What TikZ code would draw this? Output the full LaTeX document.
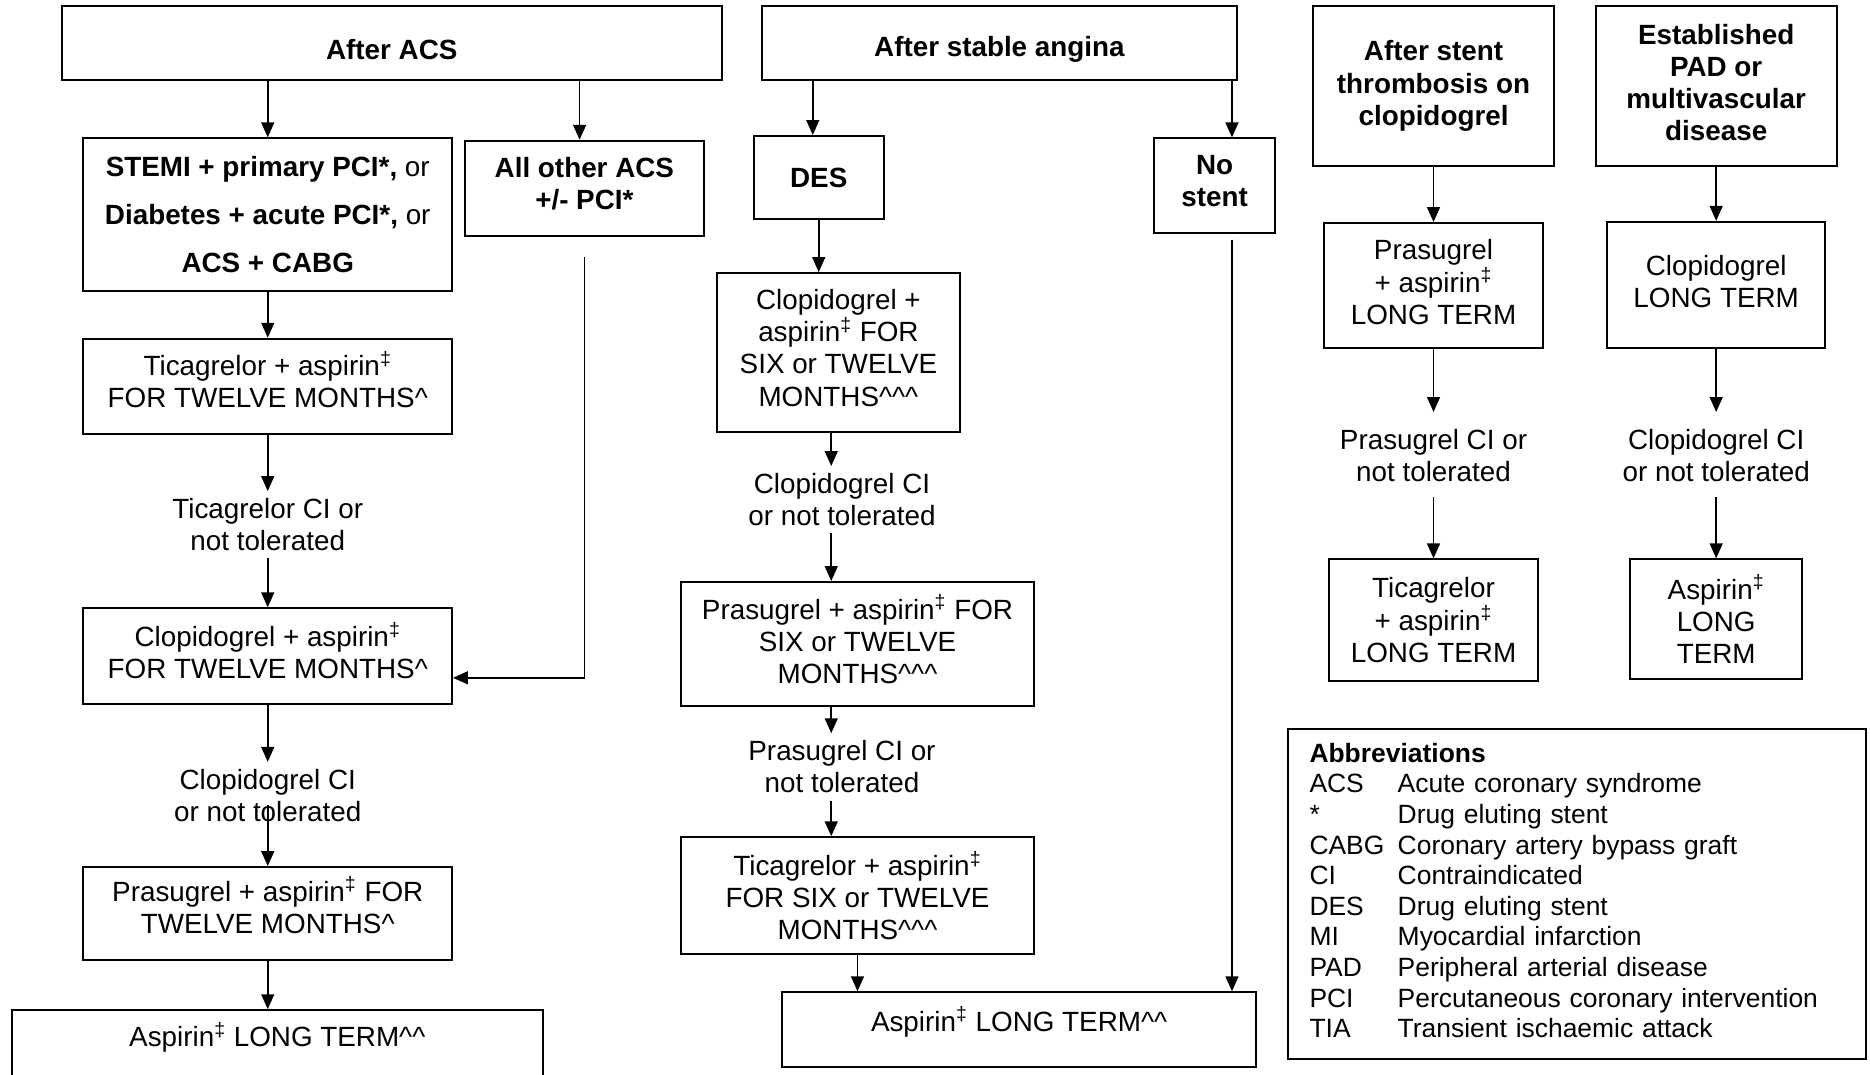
\documentclass[tikz,border=0pt]{standalone}
\usepackage{fontspec}
\setmainfont{Liberation Sans}
\usepackage{tikz}
\usetikzlibrary{arrows.meta}

\newcommand{\basefont}{\fontsize{14}{16.2}\selectfont}
\newcommand{\dg}{\textsuperscript{‡}}
\newcommand{\asp}{aspirin\dg}
\newcommand{\crt}{\textasciicircum}

\begin{document}
\begin{tikzpicture}[
	x=0.6pt, y=-0.6pt,
	font=\basefont,
	box/.style={rectangle, draw, line width=1pt, align=center, inner sep=2pt, font=\basefont},
	headbox/.style={box, font=\basefont\bfseries},
	dims/.style 2 args={minimum width=#1*0.6pt, minimum height=#2*0.6pt},
	cond/.style={align=center, inner sep=3.5pt, font=\basefont},
	arrow/.style={-{Triangle[length=7.5pt,width=6.5pt]}, line width=0.8pt}
	]
	\useasboundingbox (0,0) rectangle (1568,901);

	% After ACS
	\node (acs) [headbox, dims={553}{62}, text height=17pt] at (328.5,36) {After ACS};
	\node (stemi) [box, dims={309}{128}, font=\fontsize{14}{24}\selectfont] at (224.5,180)
		{\textbf{STEMI + primary PCI*,} or\\\textbf{Diabetes + acute PCI*,} or\\\textbf{ACS + CABG}};
	\node (other) [headbox, dims={200}{80}, text depth=4.8pt] at (490,158) {All other ACS\\+/- PCI*};
	\node (ticl) [box, dims={309}{80}, text depth=7.2pt] at (224.5,324) {Ticagrelor + \asp\\FOR TWELVE MONTHS\crt};
	\node (citl) [cond] at (224.5,440) {Ticagrelor CI or\\not tolerated};
	\node (clol) [box, dims={309}{80}, text depth=5.4pt] at (224.5,550) {Clopidogrel + \asp\\FOR TWELVE MONTHS\crt};
	\node (cicl) [cond] at (224.5,667) {Clopidogrel CI\\or not tolerated};
	\node (pral) [box, dims={309}{78}, text depth=8.4pt] at (224.5,766) {Prasugrel + \asp{} FOR\\TWELVE MONTHS\crt};
	\node (aspl) [box, dims={445}{64}, text depth=13.8pt] at (232.5,879) {Aspirin\dg{} LONG TERM\crt\crt};

	% After stable angina
	\node (angina) [headbox, dims={398}{62}, text height=17pt] at (838,36) {After stable angina};
	\node (des) [headbox, dims={109}{70}] at (686.5,149) {DES};
	\node (nostent) [headbox, dims={101}{79}, text depth=4.8pt] at (1018.5,155.5) {No\\stent};
	\node (clom) [box, dims={204}{133}, text depth=4.8pt] at (703,295.5) {Clopidogrel +\\\asp{} FOR\\SIX or TWELVE\\MONTHS\crt\crt\crt};
	\node (cicm) [cond] at (706,419) {Clopidogrel CI\\or not tolerated};
	\node (pram) [box, dims={296}{104}, text depth=4.8pt] at (719,540) {Prasugrel + \asp{} FOR\\SIX or TWELVE\\MONTHS\crt\crt\crt};
	\node (cipm) [cond] at (706,643) {Prasugrel CI or\\not tolerated};
	\node (ticm) [box, dims={296}{98}] at (719,751) {Ticagrelor + \asp\\FOR SIX or TWELVE\\MONTHS\crt\crt\crt};
	\node (aspm) [box, dims={397}{63}, text depth=10.8pt] at (854.5,863.5) {Aspirin\dg{} LONG TERM\crt\crt};
	\coordinate (midcol) at (697,0);
	\coordinate (nsx) at (1033,0);

	% Stent thrombosis and PAD
	\node (stent) [headbox, dims={202}{134}] at (1202,72) {After stent\\thrombosis on\\clopidogrel};
	\node (pad) [headbox, dims={202}{134}, text depth=3.6pt] at (1439,72) {Established\\PAD or\\multivascular\\disease};
	\node (prar) [box, dims={184}{105}, text depth=3.6pt] at (1202,239.5) {Prasugrel\\+ \asp\\LONG TERM};
	\node (clor) [box, dims={183}{106}, text depth=3.6pt] at (1439,239) {Clopidogrel\\LONG TERM};
	\node (cipr) [cond] at (1202,382) {Prasugrel CI or\\not tolerated};
	\node (cicr) [cond] at (1439,382) {Clopidogrel CI\\or not tolerated};
	\node (ticr) [box, dims={175}{102}] at (1202,520) {Ticagrelor\\+ \asp\\LONG TERM};
	\node (aspr) [box, dims={144}{100}] at (1439,519) {Aspirin\dg\\LONG\\TERM};

	% Abbreviations
	\node (abbr) [box, align=left, text width=269.4pt, inner xsep=10.8pt, dims={485}{277},
		font=\fontsize{13.3}{15.4}\selectfont] at (1322.5,749.5) {%
		\begin{tabular}{@{}p{44.4pt}@{}l@{}}
		\multicolumn{2}{@{}l@{}}{\textbf{Abbreviations}}\\
		ACS & Acute coronary syndrome\\
		{*} & Drug eluting stent\\
		CABG & Coronary artery bypass graft\\
		CI & Contraindicated\\
		DES & Drug eluting stent\\
		MI & Myocardial infarction\\
		PAD & Peripheral arterial disease\\
		PCI & Percutaneous coronary intervention\\
		TIA & Transient ischaemic attack
		\end{tabular}};

	% Arrows
	\draw[arrow] (acs.south -| stemi.north) -- (stemi.north);
	\draw[arrow] ([xshift=-2.4pt]acs.south -| other.north) -- ([xshift=-2.4pt]other.north);
	\draw[arrow] (stemi) -- (ticl);
	\draw[arrow] (ticl) -- (citl);
	\draw[arrow] (citl) -- (clol);
	\draw[arrow] (clol) -- (cicl);
	\draw[arrow] ([yshift=12pt]cicl.south) -- (pral.north);
	\draw[arrow] (pral.south) -- (pral.south |- aspl.north);
	\draw[arrow] ([yshift=-10pt]other.south) |- ([yshift=-11pt]clol.east);

	\draw[arrow] ([xshift=-3pt]angina.south -| des.north) -- ([xshift=-3pt]des.north);
	\draw[arrow] (angina.south -| nsx) -- (nostent.north -| nsx);
	\draw[arrow] (des.south) -- (des.south |- clom.north);
	\draw[arrow] (clom.south -| midcol) -- (cicm.north -| midcol);
	\draw[arrow] (cicm.south -| midcol) -- (pram.north -| midcol);
	\draw[arrow] (pram.south -| midcol) -- (cipm.north -| midcol);
	\draw[arrow] (cipm.south -| midcol) -- (ticm.north -| midcol);
	\draw[arrow] (ticm.south) -- (ticm.south |- aspm.north);
	\draw[arrow, shorten <=3pt] (nostent.south -| nsx) -- (aspm.north -| nsx);

	\draw[arrow] (stent) -- (prar);
	\draw[arrow, shorten >=5pt] (prar) -- (cipr);
	\draw[arrow, shorten <=4pt] (cipr) -- (ticr);
	\draw[arrow] (pad) -- (clor);
	\draw[arrow, shorten >=5pt] (clor) -- (cicr);
	\draw[arrow, shorten <=4pt] (cicr) -- (aspr);

\end{tikzpicture}
\end{document}
